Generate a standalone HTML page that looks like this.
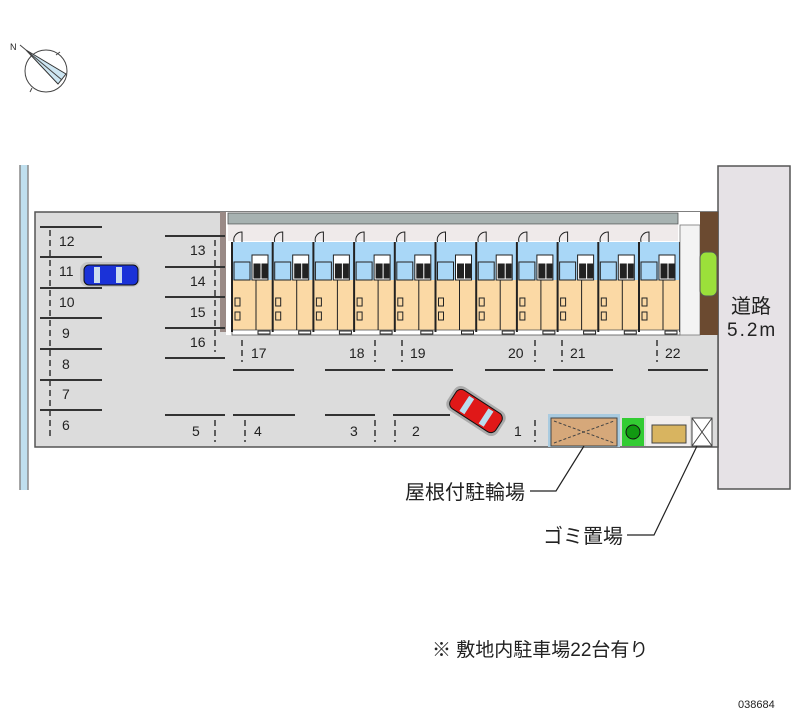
<!DOCTYPE html>
<html><head><meta charset="utf-8"><style>
html,body{margin:0;padding:0;background:#fff;}
svg{display:block;}
text{font-family:"Liberation Sans","Noto Sans CJK JP",sans-serif;fill:#222;}
</style></head><body>
<svg width="800" height="727" viewBox="0 0 800 727" xmlns="http://www.w3.org/2000/svg">
<g stroke="#444" stroke-width="1" fill="none">
<circle cx="46" cy="71" r="21"/>
<polygon points="26,50 66,74 58,84" fill="#cde6f2" stroke="#333"/>
<line x1="26" y1="50" x2="62" y2="80"/>
<line x1="20" y1="45" x2="26" y2="50"/>
<line x1="56" y1="55" x2="60" y2="52"/>
<line x1="32" y1="88" x2="30" y2="92"/>
</g>
<text x="10" y="50" font-size="9">N</text>
<rect x="20" y="165" width="8" height="325" fill="#bfdfee"/>
<line x1="20" y1="165" x2="20" y2="490" stroke="#888" stroke-width="1.5"/>
<line x1="28" y1="165" x2="28" y2="490" stroke="#888" stroke-width="1.5"/>
<rect x="718" y="166" width="72" height="323" fill="#e6e2e6" stroke="#555" stroke-width="1.5"/>
<text x="731" y="313" font-size="20">道路</text>
<text x="727" y="336" font-size="19" letter-spacing="2">5.2m</text>
<path d="M35,212 H718 V447 H35 Z" fill="#dcdcdc" stroke="#555" stroke-width="1.5"/>
<rect x="220" y="212" width="6" height="120" fill="#9a8a86"/>
<rect x="226" y="212" width="492" height="123" fill="#fff"/>
<rect x="228" y="213" width="450" height="11" fill="#a7b2b1" stroke="#555" stroke-width="0.8"/>
<rect x="228" y="225" width="450" height="16" fill="#efeaea"/>
<rect x="232" y="242" width="448" height="38" fill="#a9d7f7"/>
<rect x="232" y="280" width="448" height="50" fill="#fbd9a5"/>
<rect x="232" y="330" width="448" height="5" fill="#fff" stroke="#555" stroke-width="0.8"/>
<g id="units" stroke="#222" stroke-width="1" fill="none"></g>
<rect x="680" y="225" width="20" height="110" fill="#f3f3f3" stroke="#777" stroke-width="0.8"/>
<rect x="700" y="212" width="18" height="123" fill="#6b4a30"/>
<rect x="700" y="252" width="17" height="44" rx="6" fill="#9be03a" stroke="#555"/>
<g stroke="#333" stroke-width="2">
<line x1="40" y1="227" x2="102" y2="227"/><line x1="40" y1="257" x2="102" y2="257"/>
<line x1="40" y1="288" x2="102" y2="288"/><line x1="40" y1="318" x2="102" y2="318"/>
<line x1="40" y1="349" x2="102" y2="349"/><line x1="40" y1="380" x2="102" y2="380"/>
<line x1="40" y1="410" x2="102" y2="410"/>
<line x1="165" y1="236" x2="225" y2="236"/><line x1="165" y1="267" x2="225" y2="267"/>
<line x1="165" y1="297" x2="225" y2="297"/><line x1="165" y1="328" x2="225" y2="328"/>
<line x1="165" y1="358" x2="225" y2="358"/><line x1="165" y1="415" x2="225" y2="415"/>
<line x1="233" y1="415" x2="295" y2="415"/><line x1="325" y1="415" x2="375" y2="415"/>
<line x1="393" y1="415" x2="450" y2="415"/>
<line x1="233" y1="370" x2="294" y2="370"/><line x1="325" y1="370" x2="385" y2="370"/>
<line x1="392" y1="370" x2="453" y2="370"/><line x1="485" y1="370" x2="545" y2="370"/>
<line x1="553" y1="370" x2="613" y2="370"/><line x1="648" y1="370" x2="708" y2="370"/>
</g>
<g stroke="#333" stroke-width="1.5" stroke-dasharray="6,4">
<line x1="50" y1="230" x2="50" y2="440"/>
<line x1="215" y1="240" x2="215" y2="352"/>
<line x1="215" y1="420" x2="215" y2="442"/>
<line x1="245" y1="420" x2="245" y2="442"/>
<line x1="375" y1="420" x2="375" y2="442"/><line x1="395" y1="420" x2="395" y2="442"/>
<line x1="535" y1="420" x2="535" y2="442"/>
<line x1="242" y1="340" x2="242" y2="362"/><line x1="375" y1="340" x2="375" y2="362"/>
<line x1="402" y1="340" x2="402" y2="362"/><line x1="535" y1="340" x2="535" y2="362"/>
<line x1="562" y1="340" x2="562" y2="362"/><line x1="657" y1="340" x2="657" y2="362"/>
</g>
<g font-size="14">
<text x="59" y="246">12</text><text x="59" y="276">11</text><text x="59" y="307">10</text>
<text x="62" y="338">9</text><text x="62" y="369">8</text><text x="62" y="399">7</text><text x="62" y="430">6</text>
<text x="190" y="255">13</text><text x="190" y="286">14</text><text x="190" y="317">15</text><text x="190" y="347">16</text>
<text x="192" y="436">5</text><text x="254" y="436">4</text><text x="350" y="436">3</text>
<text x="412" y="436">2</text><text x="514" y="436">1</text>
<text x="251" y="358">17</text><text x="349" y="358">18</text><text x="410" y="358">19</text>
<text x="508" y="358">20</text><text x="570" y="358">21</text><text x="665" y="358">22</text>
</g>
<rect x="80" y="262" width="60" height="25" rx="8" fill="#bbb" opacity="0.7"/>
<rect x="84" y="265" width="54" height="20" rx="5" fill="#1a32d8" stroke="#111"/>
<rect x="94" y="267" width="6" height="16" fill="#cde"/><rect x="116" y="267" width="6" height="16" fill="#cde"/>
<g transform="translate(476,411) rotate(33)">
<rect x="-30" y="-14" width="60" height="28" rx="8" fill="#888" opacity="0.6"/>
<rect x="-27" y="-11" width="54" height="22" rx="6" fill="#e01818" stroke="#111"/>
<rect x="-14" y="-9" width="6" height="18" fill="#bde"/><rect x="9" y="-9" width="6" height="18" fill="#bde"/>
</g>
<rect x="548" y="414" width="72" height="33" fill="#a9cbe0"/>
<rect x="551" y="418" width="66" height="28" fill="#d6a87a" stroke="#444"/>
<path d="M554,421 L614,443 M554,443 L614,421" stroke="#444" stroke-dasharray="3,2"/>
<rect x="622" y="418" width="22" height="28" fill="#3c3"/>
<circle cx="633" cy="432" r="7" fill="#191" stroke="#111"/>
<rect x="646" y="416" width="44" height="30" fill="#f1eeee"/>
<rect x="652" y="425" width="34" height="18" fill="#d8b460" stroke="#444"/>
<rect x="692" y="418" width="20" height="28" fill="#fff" stroke="#444"/>
<path d="M692,418 L712,446 M712,418 L692,446" stroke="#444"/>
<polyline points="584,446 556,491 530,491" fill="none" stroke="#222" stroke-width="1.2"/>
<polyline points="697,446 654,535 627,535" fill="none" stroke="#222" stroke-width="1.2"/>
<text x="405" y="499" font-size="20">屋根付駐輪場</text>
<text x="543" y="543" font-size="20">ゴミ置場</text>
<text x="432" y="656" font-size="19">※ 敷地内駐車場22台有り</text>
<text x="738" y="708" font-size="11" fill="#333">038684</text>
</svg>
<script>
(function(){var g=document.getElementById('units');var ns='http://www.w3.org/2000/svg';
function el(t,a){var e=document.createElementNS(ns,t);for(var k in a)e.setAttribute(k,a[k]);g.appendChild(e);}
for(var i=0;i<11;i++){var x=232+i*40.7;
el('line',{x1:x,y1:242,x2:x,y2:332,'stroke-width':2});
el('rect',{x:x+2,y:262,width:16,height:18});
el('rect',{x:x+20,y:255,width:16,height:25,fill:'#fff'});
el('rect',{x:x+22,y:264,width:6,height:14,fill:'#222'});
el('rect',{x:x+30,y:264,width:5,height:14,fill:'#222'});
el('line',{x1:x+24,y1:280,x2:x+24,y2:330});
el('rect',{x:x+3,y:298,width:5,height:8});el('rect',{x:x+3,y:312,width:5,height:8});
el('path',{d:'M'+(x+2)+',242 a8,8 0 0 1 8,-10 v10'});
el('rect',{x:x+26,y:331,width:12,height:3,fill:'#fff'});}
el('line',{x1:680,y1:242,x2:680,y2:332,'stroke-width':2});})();
</script>
</body></html>
